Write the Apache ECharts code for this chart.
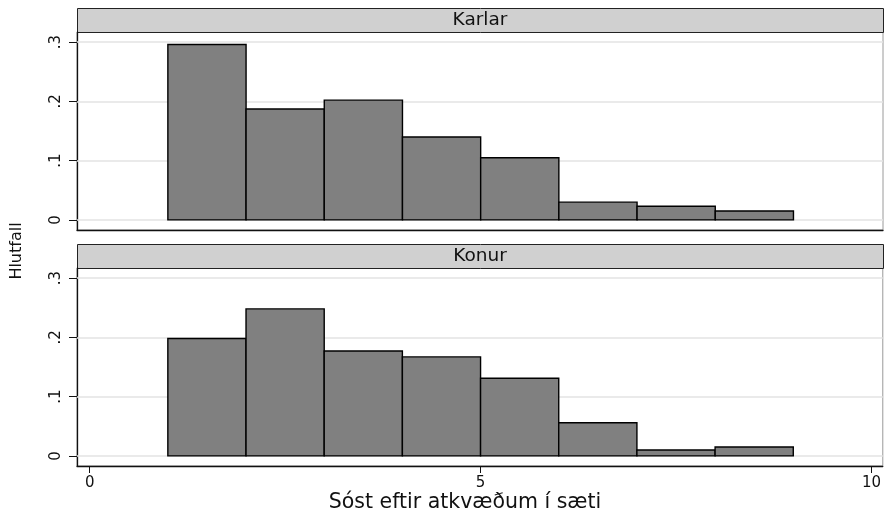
<!DOCTYPE html>
<html>
<head>
<meta charset="utf-8">
<script src="https://cdn.jsdelivr.net/npm/echarts@6/dist/echarts.min.js"></script>
<style>
html,body{margin:0;padding:0;background:#fff;}
#chart{width:884px;height:519px;}
</style>
</head>
<body>
<div id="chart"></div>
<script>
// ---- data ----
const binStarts = [1, 2, 3, 4, 5, 6, 7, 8];
const binWidth = 1;
const panelNames = ['Karlar', 'Konur'];
const karlar = [0.296, 0.187, 0.202, 0.140, 0.105, 0.030, 0.023, 0.015];
const konur  = [0.198, 0.248, 0.177, 0.167, 0.131, 0.056, 0.010, 0.015];
const yTicks = [0, 0.1, 0.2, 0.3];
const xTicks = [0, 5, 10];
const xTitle = 'Sóst eftir atkvæðum í sæti';
const yTitle = 'Hlutfall';

const FONT = 'DejaVu Sans';
const chart = echarts.init(document.getElementById('chart'));

const panels = [
  {top: 32, height: 198, strip: 8, data: karlar, name: panelNames[0], showX: false},
  {top: 268, height: 198, strip: 244, data: konur, name: panelNames[1], showX: true}
];
const LEFT = 77, WIDTH = 806;

const grids = [], xAxes = [], yAxes = [], series = [], graphics = [];
panels.forEach((p, i) => {
  grids.push({left: LEFT, top: p.top, width: WIDTH, height: p.height, show: true,
    borderColor: '#9a9a9a', borderWidth: 1, backgroundColor: '#fff'});
  xAxes.push({
    type: 'value', gridIndex: i, min: -0.162, max: 10.145,
    splitLine: {show: false},
    axisLine: {show: true, onZero: false, lineStyle: {color: '#111', width: 1.3}},
    axisTick: {show: p.showX, customValues: xTicks, length: 7, lineStyle: {color: '#111', width: 1}},
    axisLabel: {show: p.showX, customValues: xTicks, margin: 10, fontFamily: FONT, fontSize: 15, color: '#111'}
  });
  yAxes.push({
    type: 'value', gridIndex: i, min: -0.017, max: 0.317,
    splitLine: {show: false},
    axisLine: {show: true, onZero: false, lineStyle: {color: '#111', width: 1.3}},
    axisTick: {show: true, customValues: yTicks, length: 8, lineStyle: {color: '#111', width: 1}},
    axisLabel: {show: true, customValues: yTicks, rotate: 90, margin: 13, fontFamily: FONT, fontSize: 15, color: '#111',
      formatter: v => v === 0 ? '0' : String(+v.toFixed(2)).replace(/^0/, '')}
  });
  series.push({
    type: 'custom', xAxisIndex: i, yAxisIndex: i,
    data: binStarts.map((s, k) => [s, p.data[k]]),
    renderItem: (params, api) => {
      const s = api.value(0), v = api.value(1);
      const a = api.coord([s, v]);
      const b = api.coord([s + binWidth, 0]);
      return {type: 'rect', shape: {x: a[0], y: a[1], width: b[0] - a[0], height: b[1] - a[1]},
        style: {fill: '#808080', stroke: '#000', lineWidth: 1.4}, z2: 10};
    },
    markLine: {
      silent: true, symbol: 'none', label: {show: false}, z: 1,
      lineStyle: {color: '#e3e3e3', width: 1.6, type: 'solid'},
      data: yTicks.map(t => ({yAxis: t}))
    },
    z: 3
  });
  graphics.push({type: 'rect', left: LEFT, top: p.strip, shape: {width: WIDTH, height: 24},
    style: {fill: '#d0d0d0', stroke: '#222', lineWidth: 1}});
  graphics.push({type: 'text', x: LEFT + WIDTH / 2, y: p.strip + 12,
    style: {text: p.name, fontFamily: FONT, fontSize: 18.5, fill: '#111', textAlign: 'center', textVerticalAlign: 'middle'}});
});
graphics.push({type: 'text', x: 17, y: 251, rotation: Math.PI / 2,
  style: {text: yTitle, fontFamily: FONT, fontSize: 16, fill: '#111', textAlign: 'center', textVerticalAlign: 'middle'}});
graphics.push({type: 'text', x: 465, y: 503,
  style: {text: xTitle, fontFamily: FONT, fontSize: 20.5, fill: '#111', textAlign: 'center', textVerticalAlign: 'middle'}});

chart.setOption({
  backgroundColor: '#fff',
  animation: false,
  grid: grids, xAxis: xAxes, yAxis: yAxes, series: series, graphic: graphics
});
</script>
</body>
</html>
